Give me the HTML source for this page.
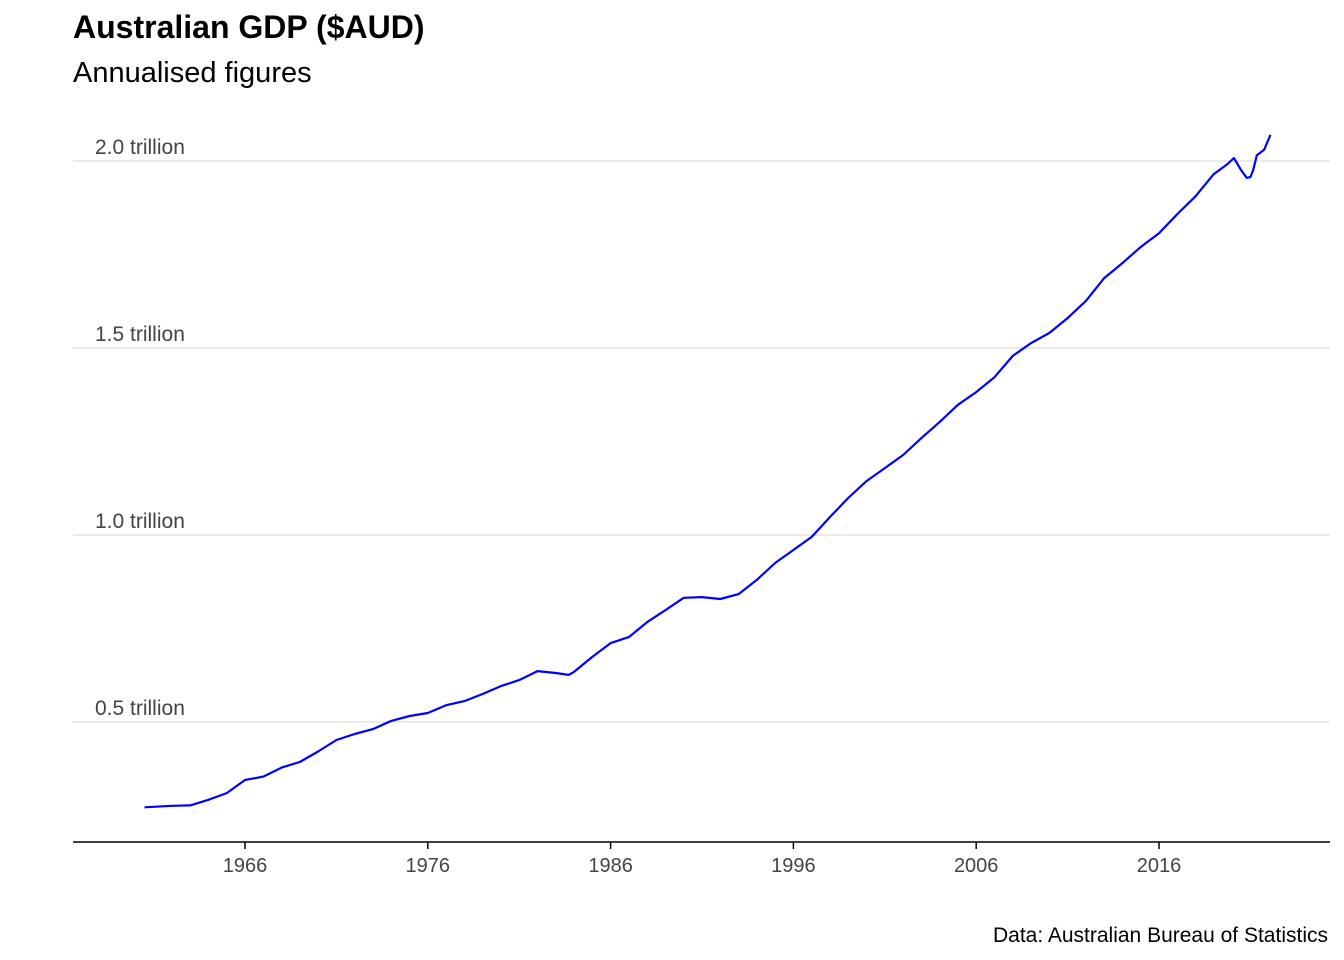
<!DOCTYPE html>
<html><head><meta charset="utf-8">
<style>
html,body{margin:0;padding:0;background:#fff;width:1344px;height:960px;overflow:hidden}
svg{display:block;font-family:"Liberation Sans",Arial,sans-serif}
</style></head>
<body>
<svg id="chart" width="1344" height="960">
<text x="73" y="38" font-size="32" font-weight="bold" fill="#000">Australian GDP ($AUD)</text>
<text x="73" y="82" font-size="29" fill="#000">Annualised figures</text>
<text x="1328" y="942" font-size="21" fill="#000" text-anchor="end">Data: Australian Bureau of Statistics</text>
<g id="grid"></g>
<g id="yaxis"></g>
<g id="xaxis"></g>
<g id="series"></g>
</svg>
<script>
const years = [1960.5,1962,1963,1964,1965,1966,1967,1968,1969,1970,1971,1972,1973,1974,1975,1976,1977,1978,1979,1980,1981,1982,1983,1983.7,1984,1985,1986,1987,1988,1989,1990,1991,1992,1993,1994,1995,1996,1997,1998,1999,2000,2001,2002,2003,2004,2005,2006,2007,2008,2009,2010,2011,2012,2013,2014,2015,2016,2017,2018,2019,2019.75,2020.1,2020.5,2020.8,2021.0,2021.15,2021.35,2021.75,2022.1];
const gdp = [0.272,0.276,0.277,0.292,0.31,0.345,0.354,0.378,0.393,0.421,0.452,0.468,0.481,0.503,0.516,0.524,0.545,0.556,0.575,0.596,0.612,0.636,0.631,0.626,0.634,0.674,0.711,0.727,0.767,0.799,0.832,0.834,0.829,0.842,0.88,0.925,0.96,0.995,1.048,1.099,1.144,1.179,1.214,1.259,1.302,1.348,1.382,1.422,1.479,1.513,1.54,1.58,1.626,1.687,1.727,1.770,1.807,1.858,1.906,1.965,1.992,2.008,1.975,1.955,1.957,1.975,2.015,2.03,2.07];
const yTicks = [0.5,1.0,1.5,2.0];
const yTickLabels = ["0.5 trillion","1.0 trillion","1.5 trillion","2.0 trillion"];
const xTicks = [1966,1976,1986,1996,2006,2016];

const NS="http://www.w3.org/2000/svg";
function xs(v){return 245+(v-1966)*18.28;}
function ys(v){return 909-v*374;}
function mk(tag,attrs,parent){const e=document.createElementNS(NS,tag);for(const k in attrs)e.setAttribute(k,attrs[k]);parent.appendChild(e);return e;}
const grid=document.getElementById('grid'),ya=document.getElementById('yaxis'),xa=document.getElementById('xaxis'),ser=document.getElementById('series');
yTicks.forEach((t,i)=>{
  const l=mk('line',{x1:73,x2:1330,y1:ys(t),y2:ys(t),stroke:'#e3e3e3','stroke-width':1.5},grid);
  
  
  const tx=mk('text',{x:95,y:ys(t)-7,'font-size':21,fill:'#444'},ya);
  tx.textContent=yTickLabels[i];
  
  
});
const base=mk('line',{x1:73,x2:1330,y1:842,y2:842,stroke:'#000','stroke-width':1.5},xa);


xTicks.forEach(t=>{
  const tk=mk('line',{x1:xs(t),x2:xs(t),y1:842,y2:849,stroke:'#000','stroke-width':1.5},xa);
  
  
  const tx=mk('text',{x:xs(t),y:872,'font-size':20,fill:'#444','text-anchor':'middle'},xa);
  tx.textContent=t;
  
  
});
const d=years.map((y,i)=>(i?'L':'M')+xs(y).toFixed(1)+','+ys(gdp[i]).toFixed(1)).join(' ');
const p=mk('path',{d:d,fill:'none',stroke:'#0000ff','stroke-width':2.2,'stroke-linejoin':'round'},ser);


</script>
</body></html>
